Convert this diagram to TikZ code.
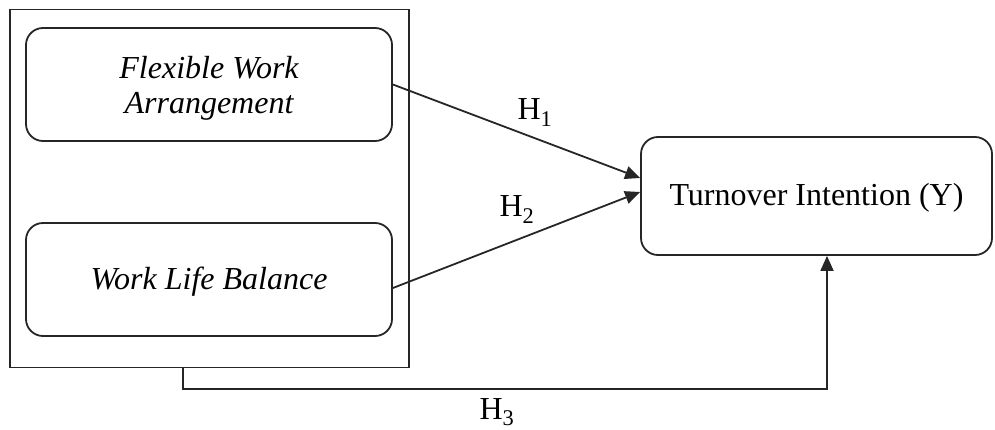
\documentclass[tikz,border=0pt]{standalone}
\usepackage{fontspec}
\setmainfont{Liberation Serif}
\usetikzlibrary{arrows.meta,calc}
\begin{document}
\begin{tikzpicture}[x=1pt,y=-1pt,
  font=\fontsize{32}{35}\selectfont,
  frame/.style={draw=black!85, line width=1.8pt, inner sep=0pt},
  varbox/.style={frame, rounded corners=17pt, minimum width=366pt, minimum height=113pt, align=center, font=\fontsize{32}{35}\selectfont\itshape},
  conn/.style={draw=black!85, line width=1.8pt, -{Triangle[length=15pt,width=13pt]}},
  hlabel/.style={inner sep=0pt, anchor=base}]
\useasboundingbox (0,0) rectangle (995,430);
\node[frame, minimum width=399pt, minimum height=358pt] (outer) at (209.5,188.5) {};
\node[varbox, text height=64pt, text depth=5pt] (fwa) at (209,84.5) {Flexible Work\\Arrangement};
\node[varbox, text height=25pt, text depth=5pt] (wlb) at (209,279.5) {Work Life Balance};
\node[frame, rounded corners=17pt, minimum width=351pt, minimum height=118pt, text height=25pt, text depth=5pt] (ty) at (816.5,196) {Turnover Intention (Y)};
\draw[conn] (fwa.east) -- ($(ty.west)+(0,-18)$);
\draw[conn] ($(wlb.east)+(0,8.5)$) -- ($(ty.west)+(0,-4)$);
\coordinate (h3a) at (183,389);
\coordinate (h3b) at (827,389);
\draw[conn] (outer.south -| h3a) -- (h3a) -- (h3b) -- (ty.south -| h3b);
\node[hlabel] (h1) at (535,120) {H\textsubscript{1}};
\node[hlabel] (h2) at (517,217) {H\textsubscript{2}};
\node[hlabel] (h3) at (497,419) {H\textsubscript{3}};
\end{tikzpicture}
\end{document}
